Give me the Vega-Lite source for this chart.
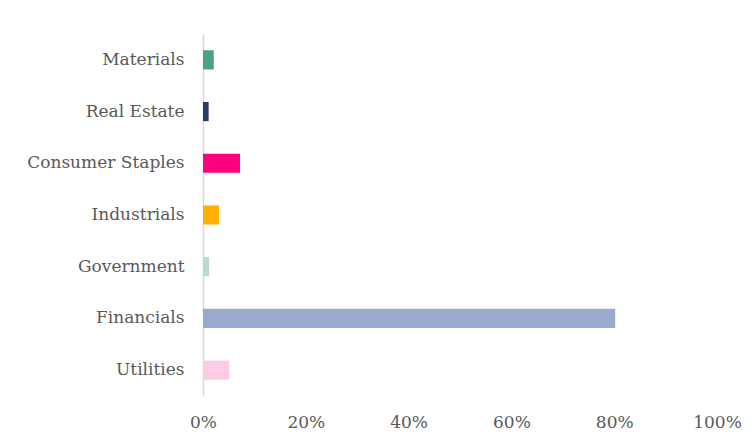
{
  "$schema": "https://vega.github.io/schema/vega-lite/v6.json",
  "autosize": "none",
  "padding": {"left": 203, "top": 34, "right": 35, "bottom": 47},
  "width": 514,
  "height": 362,
  "background": "white",
  "data": {"values": [
    {"sector": "Materials", "share": 0.021, "color": "#4E9F88"},
    {"sector": "Real Estate", "share": 0.011, "color": "#2B3A6B"},
    {"sector": "Consumer Staples", "share": 0.072, "color": "#FF0080"},
    {"sector": "Industrials", "share": 0.031, "color": "#FFAF00"},
    {"sector": "Government", "share": 0.012, "color": "#B3DDD2"},
    {"sector": "Financials", "share": 0.802, "color": "#9AAACE"},
    {"sector": "Utilities", "share": 0.051, "color": "#FCCBE4"}
  ]},
  "mark": {"type": "bar"},
  "encoding": {
    "y": {
      "field": "sector", "type": "nominal", "sort": null, "title": null,
      "scale": {"paddingInner": 0.63, "paddingOuter": 0.315},
      "axis": {"ticks": false, "domain": true, "domainColor": "#D9D9D9", "domainWidth": 1.5, "labelPadding": 19, "labelFont": "DejaVu Serif", "labelFontSize": 17, "labelColor": "#595959", "grid": false}
    },
    "x": {
      "field": "share", "type": "quantitative", "title": null,
      "scale": {"domain": [0, 1], "nice": false},
      "axis": {"format": "%", "values": [0, 0.2, 0.4, 0.6, 0.8, 1], "ticks": false, "domain": false, "grid": false, "labelPadding": 18, "labelFont": "DejaVu Serif", "labelFontSize": 17, "labelColor": "#595959", "labelFlush": false}
    },
    "color": {"field": "color", "type": "nominal", "scale": null, "legend": null}
  },
  "config": {"view": {"stroke": null}}
}
